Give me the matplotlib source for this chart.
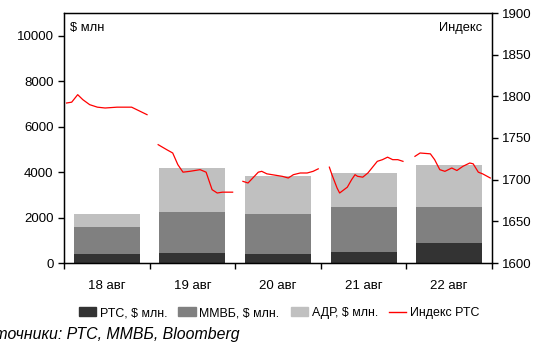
import matplotlib
matplotlib.use("Agg")
import matplotlib.pyplot as plt
import matplotlib.patches as mpatches
from matplotlib.lines import Line2D

plt.rcParams['font.family'] = ['Liberation Sans', 'DejaVu Sans']

# Daily trading volumes, $ mln
days = ['18 авг', '19 авг', '20 авг', '21 авг', '22 авг']
rts_vol = [400, 440, 400, 490, 900]
micex_vol = [1190, 1810, 1760, 1980, 1570]
adr_vol = [570, 1950, 1680, 1500, 1830]

# Intraday RTS index: position within the day (0..1) and level
rts_time = [
    [0.03, 0.09, 0.16, 0.22, 0.30, 0.39, 0.48, 0.62, 0.79, 0.89, 0.97],
    [0.10, 0.20, 0.27, 0.33, 0.39, 0.47, 0.59, 0.66, 0.69, 0.73, 0.79, 0.85, 0.97],
    [0.09, 0.15, 0.27, 0.31, 0.37, 0.55, 0.62, 0.68, 0.76, 0.84, 0.91, 0.97],
    [0.10, 0.13, 0.19, 0.22, 0.31, 0.36, 0.40, 0.43, 0.49, 0.55, 0.66, 0.72, 0.78, 0.84, 0.90, 0.96],
    [0.10, 0.16, 0.28, 0.33, 0.39, 0.45, 0.53, 0.59, 0.66, 0.74, 0.78, 0.84, 0.89, 0.98],
]
rts_index = [
    [1792, 1793, 1802, 1796, 1790, 1787, 1786, 1787, 1787, 1782, 1778],
    [1742, 1736, 1732, 1718, 1709, 1710, 1712, 1709, 1700, 1688, 1684, 1685, 1685],
    [1698, 1696, 1709, 1710, 1707, 1704, 1702, 1706, 1708, 1708, 1710, 1713],
    [1715, 1706, 1690, 1684, 1691, 1700, 1706, 1704, 1703, 1708, 1722, 1724, 1727, 1724, 1724, 1722],
    [1728, 1732, 1731, 1724, 1712, 1710, 1714, 1711, 1716, 1720, 1719, 1709, 1707, 1702],
]

c_rts = '#333333'
c_micex = '#808080'
c_adr = '#c0c0c0'
c_line = '#ff0000'

fig = plt.figure(figsize=(5.49, 3.42), dpi=100)
ax = fig.add_axes([64 / 549, 79 / 342, 428 / 549, 250 / 342])

# Stacked volume bars
x = list(range(len(days)))
bottom2 = [a + b for a, b in zip(rts_vol, micex_vol)]
ax.bar(x, rts_vol, width=0.77, color=c_rts, zorder=2)
ax.bar(x, micex_vol, width=0.77, bottom=rts_vol, color=c_micex, zorder=2)
ax.bar(x, adr_vol, width=0.77, bottom=bottom2, color=c_adr, zorder=2)

ax.set_xlim(-0.5, len(days) - 0.5)
ax.set_ylim(0, 11000)
ax.set_yticks(range(0, 10001, 2000))
ax.set_xticks([i - 0.5 for i in range(len(days) + 1)])
ax.set_xticklabels([])
ax.set_xticks(x, minor=True)
ax.set_xticklabels(days, minor=True)
ax.tick_params(axis='x', which='major', direction='out', length=4, width=1)
ax.tick_params(axis='x', which='minor', length=0, pad=12, labelsize=9.5)
ax.tick_params(axis='y', direction='out', length=4, width=1, labelsize=9.5)
for s in ax.spines.values():
    s.set_linewidth(1)

# Index on the right axis, broken between days
ax2 = ax.twinx()
for i, (t, v) in enumerate(zip(rts_time, rts_index)):
    ax2.plot([i - 0.5 + f for f in t], v, color=c_line, lw=0.9)
ax2.set_ylim(1600, 1900)
ax2.set_yticks(range(1600, 1901, 50))
ax2.tick_params(axis='y', direction='out', length=4, width=1, labelsize=9.5)

ax.text(0.015, 0.94, '$ млн', transform=ax.transAxes, fontsize=9.3, va='center', ha='left')
ax.text(0.978, 0.94, 'Индекс', transform=ax.transAxes, fontsize=9.3, va='center', ha='right')

handles = [
    mpatches.Patch(color=c_rts, label='РТС, $ млн.'),
    mpatches.Patch(color=c_micex, label='ММВБ, $ млн.'),
    mpatches.Patch(color=c_adr, label='АДР, $ млн.'),
    Line2D([], [], color=c_line, lw=1, label='Индекс РТС'),
]
fig.legend(handles=handles, loc='center', bbox_to_anchor=(279 / 549, 1 - 313 / 342),
           ncol=4, frameon=False, fontsize=8.9, handlelength=1.4, handleheight=0.75,
           handletextpad=0.3, columnspacing=0.9)

fig.text(240 / 549, 1 - 335 / 342, 'Источники: РТС, ММВБ, Bloomberg',
         fontsize=11.4, style='italic', va='center', ha='right')

fig.savefig('out.png', dpi=100)
